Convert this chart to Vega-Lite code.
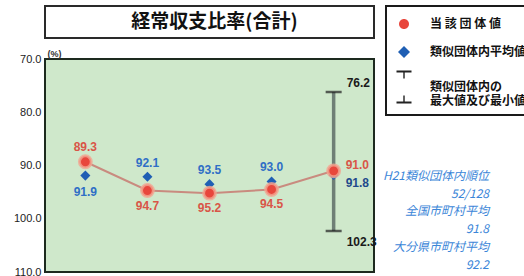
{
  "$schema": "https://vega.github.io/schema/vega-lite/v6.json",
  "background": "white",
  "padding": {"left": 12, "top": 5, "right": 0, "bottom": 0},
  "config": {"legend": {"strokeWidth": 2}},
  "datasets": {
    "ratio": [
      {"year": "H17", "own": 89.3, "avg": 91.9},
      {"year": "H18", "own": 94.7, "avg": 92.1},
      {"year": "H19", "own": 95.2, "avg": 93.5},
      {"year": "H20", "own": 94.5, "avg": 93.0},
      {"year": "H21", "own": 91.0, "avg": 91.8, "best": 76.2, "worst": 102.3}
    ],
    "notes": [
      {"line": 1, "text": "H21類似団体内順位"},
      {"line": 2, "text": "52/128"},
      {"line": 3, "text": "全国市町村平均"},
      {"line": 4, "text": "91.8"},
      {"line": 5, "text": "大分県市町村平均"},
      {"line": 6, "text": "92.2"}
    ],
    "heading": [{"text": "経常収支比率(合計)"}]
  },
  "spacing": 21,
  "bounds": "flush",
  "vconcat": [
    {
      "width": 329,
      "height": 32,
      "view": {"fill": "white", "stroke": "#2a2a2a", "strokeWidth": 2},
      "data": {"name": "heading"},
      "mark": {"type": "text", "font": "Noto Sans CJK JP", "fontWeight": "bold", "fontSize": 19, "color": "#111111", "baseline": "middle", "align": "center"},
      "encoding": {
        "x": {"datum": 0.515, "type": "quantitative", "scale": {"domain": [0, 1]}, "axis": null},
        "y": {"datum": 0.5, "type": "quantitative", "scale": {"domain": [0, 1]}, "axis": null},
        "text": {"field": "text"}
      }
    },
    {
      "spacing": 10,
      "bounds": "flush",
      "hconcat": [
        {
          "width": 329,
          "height": 213,
          "view": {"fill": "#cfe8cb", "stroke": "#1d2a1f", "strokeWidth": 2},
          "data": {"name": "ratio"},
          "encoding": {
            "x": {"field": "year", "type": "ordinal", "scale": {"type": "point", "padding": 0.65}, "axis": null}
          },
          "layer": [
            {
              "transform": [{"filter": "isValid(datum.best)"}],
              "mark": {"type": "rule", "color": "#6f7f76", "strokeWidth": 3.5},
              "encoding": {
                "y": {"field": "best", "type": "quantitative",
                  "scale": {"domain": [70, 110], "reverse": true, "nice": false, "zero": false},
                  "axis": {"values": [70, 80, 90, 100, 110], "format": ".1f", "ticks": false, "domain": false, "grid": false,
                    "labelFont": "Liberation Sans", "labelFontSize": 11, "labelColor": "#222222", "labelPadding": 4,
                    "title": "(%)", "titleAngle": 0, "titleX": 2, "titleY": -1, "titleAlign": "left", "titleBaseline": "bottom",
                    "titleFont": "Liberation Sans", "titleFontSize": 9, "titleFontWeight": "bold", "titleColor": "#333333"}},
                "y2": {"field": "worst"}
              }
            },
            {
              "transform": [{"filter": "isValid(datum.best)"}],
              "mark": {"type": "tick", "color": "#1e1e1e", "size": 16, "thickness": 2.5},
              "encoding": {"y": {"field": "best", "type": "quantitative"}}
            },
            {
              "transform": [{"filter": "isValid(datum.worst)"}],
              "mark": {"type": "tick", "color": "#1e1e1e", "size": 16, "thickness": 2.5},
              "encoding": {"y": {"field": "worst", "type": "quantitative"}}
            },
            {
              "mark": {"type": "line", "color": "#c98b7f", "strokeWidth": 2},
              "encoding": {"y": {"field": "own", "type": "quantitative"}}
            },
            {
              "mark": {"type": "point", "filled": true, "size": 280, "opacity": 1},
              "encoding": {
                "y": {"field": "avg", "type": "quantitative"},
                "shape": {"datum": "類似団体内平均値", "type": "nominal",
                  "scale": {"domain": ["当該団体値", "類似団体内平均値", "類似団体内の最大値及び最小値"],
                    "range": ["M0.5,0A0.5,0.5 0 1 1 -0.5,0A0.5,0.5 0 1 1 0.5,0Z", "M0,-0.6L0.6,0L0,0.6L-0.6,0Z", "M-0.75,-1.65H0.75V-1.45H0.07V-0.85H-0.07V-1.45H-0.75Z M-0.75,1.65H0.75V1.45H0.07V0.85H-0.07V1.45H-0.75Z"]}},
                "color": {"datum": "類似団体内平均値", "type": "nominal",
                  "scale": {"domain": ["当該団体値", "類似団体内平均値", "類似団体内の最大値及び最小値"], "range": ["#e8463c", "#1f5fb4", "#222222"]},
                  "legend": {
                    "orient": "none", "legendX": 341, "legendY": 0, "title": null,
                    "strokeColor": "#1a1a1a", "fillColor": "white", "padding": 8,
                    "labelFont": "Noto Sans CJK JP", "labelFontSize": 12, "labelFontWeight": "bold", "labelColor": "#111111",
                    "labelLimit": 400, "labelOffset": 16, "rowPadding": 12, "symbolSize": 400, "symbolStrokeWidth": 0,
                    "labelExpr": "datum.label == '当該団体値' ? '当   該   団   体   値' : datum.label == '類似団体内の最大値及び最小値' ? ['類似団体内の', ' 最大値及び最小値'] : datum.label"
                  }
                }
              }
            },
            {
              "mark": {"type": "point", "filled": true, "size": 560, "opacity": 1, "stroke": "#f3a591", "strokeWidth": 3, "strokeOpacity": 0.8},
              "encoding": {
                "y": {"field": "own", "type": "quantitative"},
                "shape": {"datum": "当該団体値", "type": "nominal"},
                "color": {"datum": "当該団体値", "type": "nominal"}
              }
            },
            {
              "transform": [{"filter": "datum.year == 'H17'"}],
              "mark": {"type": "text", "dy": -15, "color": "#d95547", "font": "Liberation Sans", "fontWeight": "bold", "fontSize": 12},
              "encoding": {"y": {"field": "own", "type": "quantitative"}, "text": {"field": "own", "type": "quantitative", "format": ".1f"}}
            },
            {
              "transform": [{"filter": "datum.year == 'H18' || datum.year == 'H19' || datum.year == 'H20'"}],
              "mark": {"type": "text", "dy": 15, "color": "#d95547", "font": "Liberation Sans", "fontWeight": "bold", "fontSize": 12},
              "encoding": {"y": {"field": "own", "type": "quantitative"}, "text": {"field": "own", "type": "quantitative", "format": ".1f"}}
            },
            {
              "transform": [{"filter": "datum.year == 'H21'"}],
              "mark": {"type": "text", "dx": 12, "dy": -6, "align": "left", "color": "#d95547", "font": "Liberation Sans", "fontWeight": "bold", "fontSize": 12},
              "encoding": {"y": {"field": "own", "type": "quantitative"}, "text": {"field": "own", "type": "quantitative", "format": ".1f"}}
            },
            {
              "transform": [{"filter": "datum.year == 'H17'"}],
              "mark": {"type": "text", "dy": 16, "color": "#2f6fc6", "font": "Liberation Sans", "fontWeight": "bold", "fontSize": 12},
              "encoding": {"y": {"field": "avg", "type": "quantitative"}, "text": {"field": "avg", "type": "quantitative", "format": ".1f"}}
            },
            {
              "transform": [{"filter": "datum.year == 'H18' || datum.year == 'H19' || datum.year == 'H20'"}],
              "mark": {"type": "text", "dy": -14, "color": "#2f6fc6", "font": "Liberation Sans", "fontWeight": "bold", "fontSize": 12},
              "encoding": {"y": {"field": "avg", "type": "quantitative"}, "text": {"field": "avg", "type": "quantitative", "format": ".1f"}}
            },
            {
              "transform": [{"filter": "datum.year == 'H21'"}],
              "mark": {"type": "text", "dx": 12, "dy": 8, "align": "left", "color": "#1f4a8c", "font": "Liberation Sans", "fontWeight": "bold", "fontSize": 12},
              "encoding": {"y": {"field": "avg", "type": "quantitative"}, "text": {"field": "avg", "type": "quantitative", "format": ".1f"}}
            },
            {
              "transform": [{"filter": "isValid(datum.best)"}],
              "mark": {"type": "text", "dx": 13, "dy": -9, "align": "left", "color": "#1a1a1a", "font": "Liberation Sans", "fontWeight": "bold", "fontSize": 12},
              "encoding": {"y": {"field": "best", "type": "quantitative"}, "text": {"field": "best", "type": "quantitative", "format": ".1f"}}
            },
            {
              "transform": [{"filter": "isValid(datum.worst)"}],
              "mark": {"type": "text", "dx": 13, "dy": 11, "align": "left", "color": "#1a1a1a", "font": "Liberation Sans", "fontWeight": "bold", "fontSize": 12},
              "encoding": {"y": {"field": "worst", "type": "quantitative"}, "text": {"field": "worst", "type": "quantitative", "format": ".1f"}}
            }
          ]
        },
        {
          "width": 105,
          "height": 213,
          "view": {"stroke": null},
          "data": {"name": "notes"},
          "mark": {"type": "text", "align": "right", "baseline": "middle", "font": "Noto Sans CJK JP", "fontSize": 12, "fontStyle": "italic", "color": "#3b86d8"},
          "encoding": {
            "x": {"datum": 1, "type": "quantitative", "scale": {"domain": [0, 1]}, "axis": null},
            "y": {"field": "line", "type": "quantitative", "scale": {"domain": [-5.57, 6.4], "reverse": true, "nice": false, "zero": false}, "axis": null},
            "text": {"field": "text"}
          }
        }
      ]
    }
  ]
}
